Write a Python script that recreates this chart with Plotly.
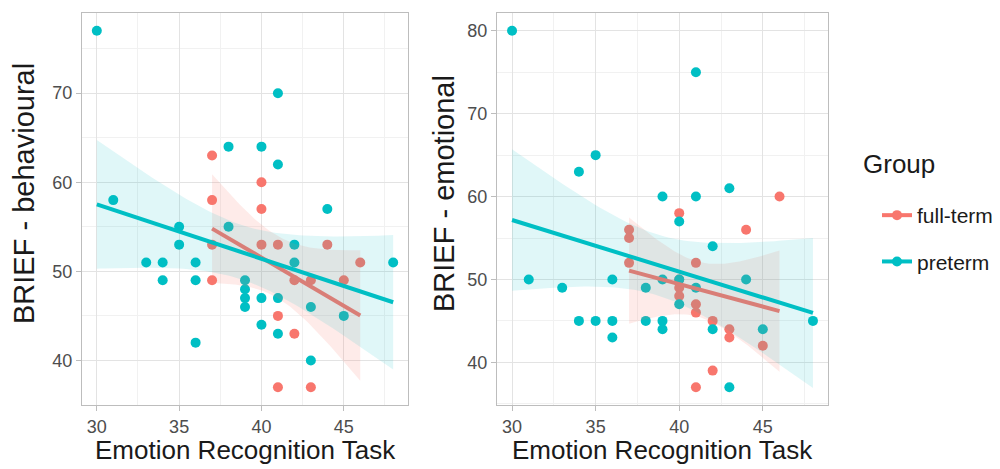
import math
import numpy as np
import plotly.graph_objects as go

# ---------------- data ----------------
groups = ["full-term", "preterm"]
colors = {"full-term": "#F8766D", "preterm": "#00BFC4"}
band_colors = {"full-term": "rgba(248,118,109,0.15)", "preterm": "rgba(0,191,196,0.12)"}

# Left panel: BRIEF - behavioural
beh_full_x = [37, 37, 40, 40, 37, 40, 41, 44, 46, 37, 42, 43, 45, 41, 42, 41, 43]
beh_full_y = [63, 58, 60, 57, 53, 53, 53, 53, 51, 49, 49, 49, 49, 45, 43, 37, 37]
beh_pre_x = [30, 41, 38, 40, 41, 31, 44, 38, 35, 35, 42, 33, 34, 36, 42, 48, 34, 36,
             39, 39, 39, 39, 40, 41, 43, 45, 40, 41, 36, 43]
beh_pre_y = [77, 70, 64, 64, 62, 58, 57, 55, 55, 53, 53, 51, 51, 51, 51, 51, 49, 49,
             49, 48, 47, 46, 47, 47, 46, 45, 44, 43, 42, 40]

# Right panel: BRIEF - emotional
emo_full_x = [37, 37, 37, 40, 40, 40, 40, 41, 41, 41, 41, 42, 42, 43, 43, 44, 45, 46]
emo_full_y = [56, 55, 52, 58, 50, 49, 48, 52, 47, 46, 37, 45, 39, 44, 43, 56, 42, 60]
emo_pre_x = [30, 41, 35, 34, 39, 41, 43, 40, 42, 31, 36, 39, 40, 44, 33, 38, 41, 40,
             34, 35, 36, 38, 39, 39, 42, 36, 45, 48, 43]
emo_pre_y = [80, 75, 65, 63, 60, 60, 61, 57, 54, 50, 50, 50, 50, 50, 49, 49, 49, 47,
             45, 45, 45, 45, 45, 44, 44, 43, 44, 45, 37]

x_ticks = [30, 35, 40, 45]
beh_y_ticks = [40, 50, 60, 70]
emo_y_ticks = [40, 50, 60, 70, 80]

x_title = "Emotion Recognition Task"
beh_title = "BRIEF - behavioural"
emo_title = "BRIEF - emotional"
legend_title = "Group"

FONT = "Liberation Sans, Arial, Helvetica, sans-serif"


# ---------------- stats helpers (linear model + 95% CI like geom_smooth) ----------------
def t_ppf_975(df):
    c = math.exp(math.lgamma((df + 1) / 2) - math.lgamma(df / 2)) / math.sqrt(df * math.pi)

    def cdf(t):
        xs = np.linspace(0, t, 4001)
        pdf = c * (1 + xs ** 2 / df) ** (-(df + 1) / 2)
        return 0.5 + np.trapezoid(pdf, xs)

    lo, hi = 0.0, 10.0
    for _ in range(60):
        mid = (lo + hi) / 2
        if cdf(mid) < 0.975:
            lo = mid
        else:
            hi = mid
    return (lo + hi) / 2


def lm_fit(x, y, n_out=80):
    x = np.asarray(x, float)
    y = np.asarray(y, float)
    n = len(x)
    mx, my = x.mean(), y.mean()
    sxx = ((x - mx) ** 2).sum()
    b = ((x - mx) * (y - my)).sum() / sxx
    a = my - b * mx
    resid = y - (a + b * x)
    s = math.sqrt((resid ** 2).sum() / (n - 2))
    xs = np.linspace(x.min(), x.max(), n_out)
    fit = a + b * xs
    se = s * np.sqrt(1 / n + (xs - mx) ** 2 / sxx)
    t = t_ppf_975(n - 2)
    return xs, fit, fit - t * se, fit + t * se


fig = go.Figure()

panels = [
    ("x", "y", {"full-term": (beh_full_x, beh_full_y), "preterm": (beh_pre_x, beh_pre_y)}),
    ("x2", "y2", {"full-term": (emo_full_x, emo_full_y), "preterm": (emo_pre_x, emo_pre_y)}),
]

for xa, ya, data in panels:
    for g in groups:
        gx, gy = data[g]
        fig.add_trace(go.Scatter(
            x=gx, y=gy, mode="markers", xaxis=xa, yaxis=ya,
            marker=dict(color=colors[g], size=10, line=dict(width=0)),
            showlegend=False, legendgroup=g, name=g))
    for g in groups:
        gx, gy = data[g]
        xs, fit, lo, hi = lm_fit(gx, gy)
        fig.add_trace(go.Scatter(
            x=np.concatenate([xs, xs[::-1]]), y=np.concatenate([hi, lo[::-1]]),
            mode="lines", fill="toself", fillcolor=band_colors[g],
            line=dict(width=0), xaxis=xa, yaxis=ya, hoverinfo="skip",
            showlegend=False, legendgroup=g))
        fig.add_trace(go.Scatter(
            x=xs, y=fit, mode="lines", xaxis=xa, yaxis=ya,
            line=dict(color=colors[g], width=4),
            showlegend=False, legendgroup=g, name=g))

# legend entries (point + line key like ggplot)
for g in groups:
    fig.add_trace(go.Scatter(
        x=[None], y=[None], mode="lines+markers", name=g, legendgroup=g,
        line=dict(color=colors[g], width=4), marker=dict(color=colors[g], size=10),
        showlegend=True))

grid_major = "#E3E3E3"
grid_minor = "#F1F1F1"
border = "#BDBDBD"

ydom = [1 - 405 / 469, 1 - 13 / 469]

common_axis = dict(
    showline=True, mirror=True, linecolor=border, linewidth=1,
    showgrid=True, gridcolor=grid_major, gridwidth=1,
    zeroline=False, ticks="outside", ticklen=5, tickcolor=border, tickwidth=1,
    tickfont=dict(family=FONT, size=18, color="#4D4D4D"),
    automargin=False,
)

fig.update_layout(
    width=1000, height=469,
    margin=dict(l=0, r=0, t=0, b=0, autoexpand=False),
    paper_bgcolor="white", plot_bgcolor="white",
    showlegend=True,
    xaxis=dict(domain=[0.082, 0.408], range=[29.1, 48.9], tickvals=x_ticks,
               minor=dict(dtick=2.5, tick0=30, showgrid=True, gridcolor=grid_minor, gridwidth=1),
               anchor="y", **common_axis),
    yaxis=dict(domain=ydom, range=[35, 79], tickvals=beh_y_ticks,
               minor=dict(dtick=5, tick0=35, showgrid=True, gridcolor=grid_minor, gridwidth=1),
               anchor="x", **common_axis),
    xaxis2=dict(domain=[0.497, 0.828], range=[29.1, 48.9], tickvals=x_ticks,
                minor=dict(dtick=2.5, tick0=30, showgrid=True, gridcolor=grid_minor, gridwidth=1),
                anchor="y2", **common_axis),
    yaxis2=dict(domain=ydom, range=[34.85, 82.15], tickvals=emo_y_ticks,
                minor=dict(dtick=5, tick0=35, showgrid=True, gridcolor=grid_minor, gridwidth=1),
                anchor="x2", **common_axis),
    legend=dict(
        x=0.877, y=1 - 195 / 469, xanchor="left", yanchor="top",
        font=dict(family=FONT, size=21, color="#1A1A1A"),
        tracegroupgap=16, bgcolor="rgba(0,0,0,0)",
    ),
    annotations=[
        dict(text=legend_title, x=0.861, y=1 - 164 / 469, xref="paper", yref="paper",
             showarrow=False, xanchor="left", yanchor="middle",
             font=dict(family=FONT, size=26, color="#1A1A1A")),
        dict(text=x_title, x=0.245, y=1 - 450 / 469, xref="paper", yref="paper",
             showarrow=False, xanchor="center", yanchor="middle",
             font=dict(family=FONT, size=26, color="#1A1A1A")),
        dict(text=x_title, x=0.6625, y=1 - 450 / 469, xref="paper", yref="paper",
             showarrow=False, xanchor="center", yanchor="middle",
             font=dict(family=FONT, size=26, color="#1A1A1A")),
        dict(text=beh_title, x=0.024, y=1 - 194 / 469, xref="paper", yref="paper",
             showarrow=False, xanchor="center", yanchor="middle", textangle=-90,
             font=dict(family=FONT, size=29, color="#1A1A1A")),
        dict(text=emo_title, x=0.444, y=1 - 194 / 469, xref="paper", yref="paper",
             showarrow=False, xanchor="center", yanchor="middle", textangle=-90,
             font=dict(family=FONT, size=29, color="#1A1A1A")),
    ],
)

fig.write_html(
    "out.html",
    config={"displayModeBar": False},
    post_script="document.body.style.margin='0';document.body.style.overflow='hidden';",
)
